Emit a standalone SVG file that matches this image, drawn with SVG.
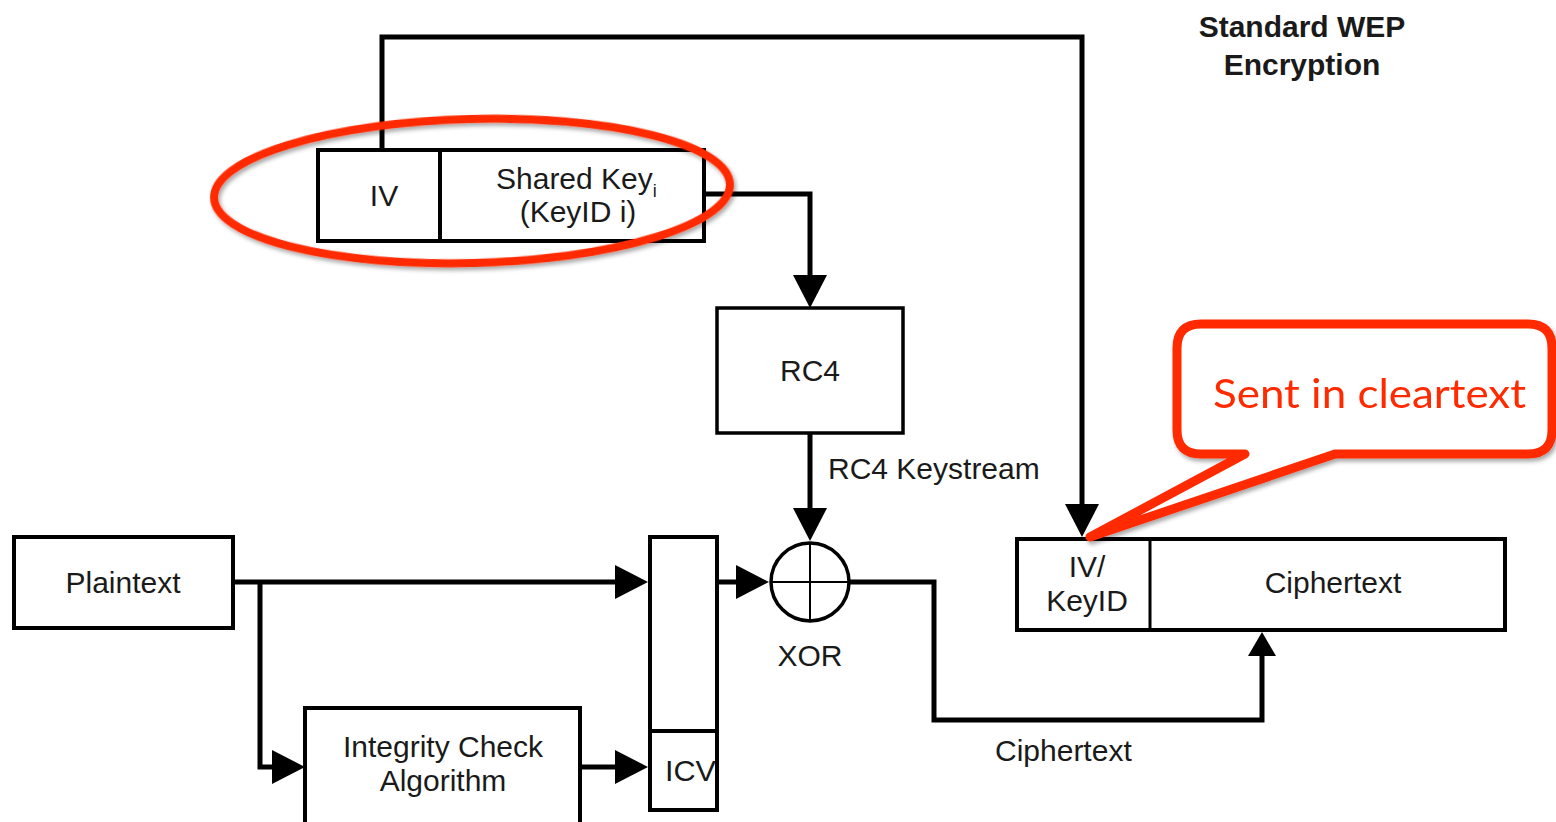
<svg xmlns="http://www.w3.org/2000/svg" width="1556" height="822" viewBox="0 0 1556 822">
<style>
.box{fill:#fff;stroke:#000;stroke-width:4}
.t{font-family:"Liberation Sans",Arial,sans-serif;font-size:30px;fill:#1a1a1a}
.c{text-anchor:middle}
.title{font-family:"Liberation Sans",Arial,sans-serif;font-size:30px;font-weight:bold;fill:#1a1a1a;text-anchor:middle}
.conn{fill:none;stroke:#000;stroke-width:5;stroke-linejoin:miter}
.red{fill:none;stroke:#ff2a00;stroke-width:8}
</style>
<defs>
<marker id="arr" markerUnits="userSpaceOnUse" markerWidth="34" markerHeight="34" refX="23" refY="17" orient="auto" overflow="visible">
<path d="M0,0 L33,17 L0,34 Z" fill="#000"/>
</marker>
<marker id="arrS" markerUnits="userSpaceOnUse" markerWidth="28" markerHeight="28" refX="14" refY="14" orient="auto" overflow="visible">
<path d="M0,0 L24,14 L0,28 Z" fill="#000"/>
</marker>
<filter id="sh" x="-10%" y="-10%" width="130%" height="140%">
<feDropShadow dx="2" dy="3" stdDeviation="2" flood-color="#000" flood-opacity="0.35"/>
</filter>
</defs>
<rect width="1556" height="822" fill="#fff"/>

<g id="title">
<text class="title" x="1302" y="37">Standard WEP</text>
<text class="title" x="1302" y="75">Encryption</text>
</g>

<g id="connectors">
<path class="conn" d="M382,150 V37 H1082 V527" marker-end="url(#arr)"/>
<path class="conn" d="M704,194 H810 V298" marker-end="url(#arr)"/>
<path class="conn" d="M810,433 V531" marker-end="url(#arr)"/>
<path class="conn" d="M233,582 H638" marker-end="url(#arr)"/>
<path class="conn" d="M260,582 V767 H295" marker-end="url(#arr)"/>
<path class="conn" d="M580,767 H638" marker-end="url(#arr)"/>
<path class="conn" d="M717,582 H759" marker-end="url(#arr)"/>
<path class="conn" d="M849,582 H934 V720 H1262 V642" marker-end="url(#arrS)"/>
</g>

<g id="key">
<rect class="box" x="318" y="150" width="386" height="91"/>
<line x1="440" y1="150" x2="440" y2="241" stroke="#000" stroke-width="4"/>
<text class="t c" x="384" y="206">IV</text>
<text class="t" x="496" y="189">Shared Key<tspan font-size="18" dy="8">i</tspan></text>
<text class="t c" x="578" y="222">(KeyID i)</text>
</g>

<g id="rc4">
<rect class="box" x="717" y="308" width="186" height="125" style="stroke-width:3.5"/>
<text class="t c" x="810" y="381">RC4</text>
</g>
<text class="t" x="828" y="479">RC4 Keystream</text>

<g id="xor">
<circle cx="810" cy="582" r="39" fill="#fff" stroke="#000" stroke-width="3.5"/>
<path d="M771,582 H849 M810,543 V621" stroke="#000" stroke-width="2"/>
<text class="t c" x="810" y="666">XOR</text>
</g>

<g id="plaintext">
<rect class="box" x="14" y="537" width="219" height="91"/>
<text class="t c" x="123" y="593">Plaintext</text>
</g>

<g id="integrity">
<rect class="box" x="305" y="708" width="275" height="120"/>
<text class="t c" x="443" y="757">Integrity Check</text>
<text class="t c" x="443" y="791">Algorithm</text>
</g>

<g id="frame">
<rect class="box" x="650" y="537" width="67" height="273"/>
<line x1="650" y1="731" x2="717" y2="731" stroke="#000" stroke-width="4"/>
<text class="t" x="665" y="781" textLength="51" lengthAdjust="spacingAndGlyphs">ICV</text>
</g>

<g id="output">
<rect class="box" x="1017" y="539" width="488" height="91"/>
<line x1="1150" y1="539" x2="1150" y2="630" stroke="#000" stroke-width="3"/>
<text class="t c" x="1087" y="577">IV/</text>
<text class="t c" x="1087" y="611">KeyID</text>
<text class="t c" x="1333" y="593">Ciphertext</text>
</g>
<text class="t" x="995" y="761">Ciphertext</text>

<g id="highlight">
<ellipse class="red" cx="472" cy="191" rx="258" ry="72" transform="rotate(-1.5 472 191)" filter="url(#sh)"/>
</g>

<g id="callout" filter="url(#sh)">
<path d="M1201,324 H1528 Q1552,324 1552,348 V430 Q1552,454 1528,454 H1335 L1090,537 L1245,454 H1201 Q1177,454 1177,430 V348 Q1177,324 1201,324 Z" fill="#fff" stroke="#ff2a00" stroke-width="9" stroke-linejoin="round"/>
<text x="1213" y="408" font-family="Lato,'Open Sans',sans-serif" font-size="40" fill="#ff2a00" textLength="313" lengthAdjust="spacingAndGlyphs">Sent in cleartext</text>
</g>
</svg>
